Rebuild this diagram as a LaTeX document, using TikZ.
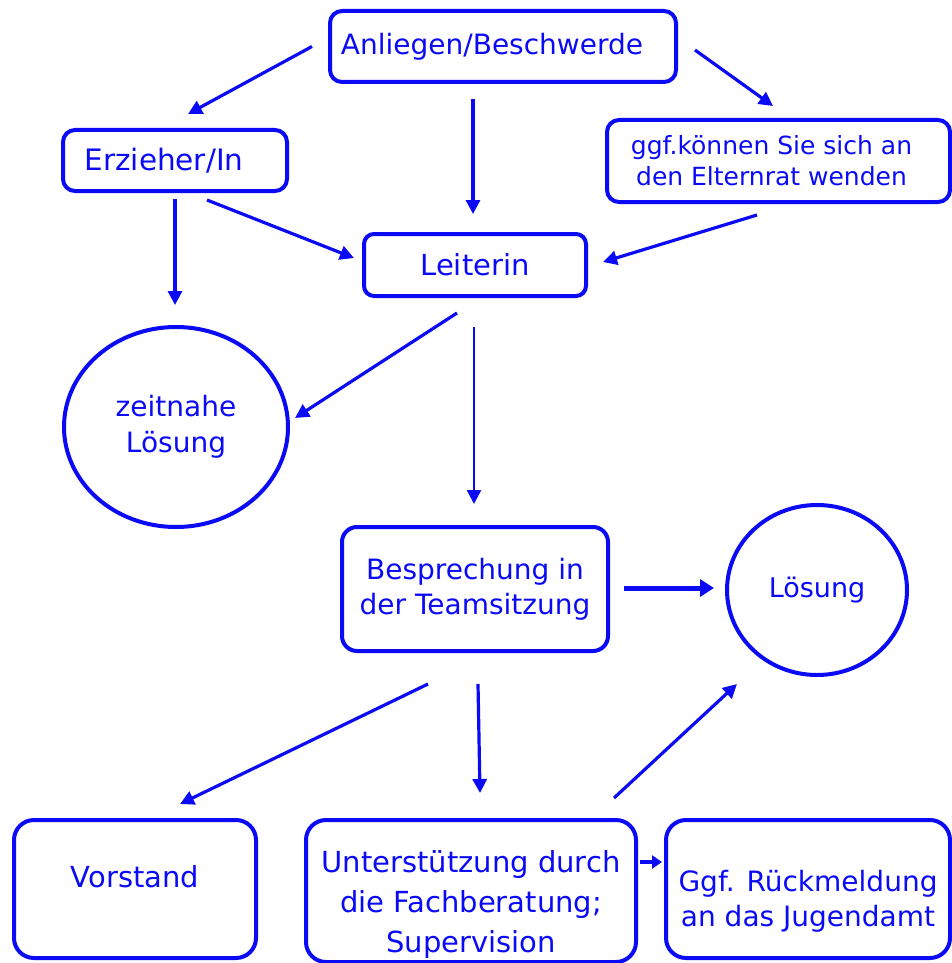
\documentclass[tikz,border=0pt]{standalone}
\usepackage{fontspec}
\setmainfont{DejaVu Sans}
\usetikzlibrary{arrows.meta,calc,shapes.geometric}
\definecolor{bblue}{RGB}{10,10,245}
\begin{document}
\begin{tikzpicture}[x=1pt,y=-1pt,
  box/.style={draw=bblue, line width=4pt, rounded corners=12pt, text=bblue, inner sep=0pt, align=center, font=\fontsize{28}{35}\selectfont},
  ell/.style={draw=bblue, ellipse, line width=4pt, text=bblue, inner sep=0pt, align=center, font=\fontsize{28}{36}\selectfont},
  arr/.style={draw=bblue, line width=3.2pt, -{Triangle[length=14pt,width=14pt]}}
]
\useasboundingbox (0,0) rectangle (952,963);
\node[box, minimum width=346pt, minimum height=71pt] (anl) at (503,46.5) {Anliegen/Beschwerde\hspace*{22pt}};
\node[box, minimum width=224pt, minimum height=61pt, font=\fontsize{29.5}{35}\selectfont] (erz) at (175,160.5) {Erzieher/In\hspace*{22pt}};
\node[box, minimum width=343pt, minimum height=82pt, font=\fontsize{25}{31}\selectfont] (ggf) at (778.5,161) {ggf.können Sie sich an\hspace*{14pt}\\den Elternrat wenden\hspace*{14pt}};
\node[box, minimum width=222pt, minimum height=62pt, rounded corners=10pt, font=\fontsize{29}{35}\selectfont] (lei) at (475,265) {Leiterin};
\node[ell, minimum width=224pt, minimum height=200pt] (zeit) at (176,427) {zeitnahe\\Lösung};
\node[box, minimum width=266pt, minimum height=124pt, rounded corners=15pt] (bes) at (475,589) {Besprechung in\\der Teamsitzung};
\node[ell, minimum width=180pt, minimum height=170pt, font=\fontsize{27}{36}\selectfont] (loes) at (817,590) {Lösung};
\node[box, minimum width=242pt, minimum height=138pt, rounded corners=20pt, font=\fontsize{29}{35}\selectfont] (vor) at (135,889) {\raisebox{26pt}{Vorstand}};
\node[box, minimum width=330pt, minimum height=142pt, rounded corners=20pt, font=\fontsize{29}{40}\selectfont] (unt) at (471,891) {\raisebox{-20pt}[0pt][0pt]{\begin{tabular}{@{}c@{}}Unterstützung durch\\die Fachberatung;\\Supervision\end{tabular}}};
\node[box, minimum width=284pt, minimum height=138pt, rounded corners=20pt, font=\fontsize{28}{35}\selectfont] (rue) at (808,889) {\raisebox{-19pt}[0pt][0pt]{\begin{tabular}{@{}c@{}}Ggf. Rückmeldung\\an das Jugendamt\end{tabular}}};

\draw[arr] ($(anl.west)+(-16,0)$) -- ($(erz.north)+(13,-14)$);
\draw[arr] ($(anl.south)+(-30,15)$) -- ($(lei.north)+(-2,-18)$);
\draw[arr] ($(anl.east)+(17,3.5)$) -- ($(ggf.north)+(-5.5,-12)$);
\draw[arr] ($(erz.south)+(0,6)$) -- ($(zeit.north)+(-1,-20)$);
\draw[arr] ($(erz.south)+(32,7)$) -- ($(lei.west)+(-8,-7)$);
\draw[arr] ($(ggf.south)+(-21.5,11)$) -- ($(lei.east)+(15,-3)$);
\draw[arr] ($(lei.south)+(-18,15)$) -- ($(zeit.east)+(5,-9)$);
\draw[arr, line width=2.5pt] ($(lei.south)+(-1,29)$) -- ($(bes.north)+(-1,-21)$);
\draw[arr, line width=5pt, -{Triangle[length=14pt,width=17pt]}] ($(bes.east)+(14,-1)$) -- ($(loes.west)+(-11,-2)$);
\draw[arr] ($(bes.south)+(-47,31)$) -- ($(vor.north)+(45,-14)$);
\draw[arr] ($(bes.south)+(3,31)$) -- ($(unt.north)+(9,-25)$);
\draw[arr] ($(unt.north)+(143,-20)$) -- ($(loes.south)+(-80,7)$);
\draw[arr, line width=4pt, -{Triangle[length=10pt,width=13pt]}] ($(unt.east)+(2,-29)$) -- ($(rue.west)+(-2,-27)$);
\end{tikzpicture}
\end{document}
